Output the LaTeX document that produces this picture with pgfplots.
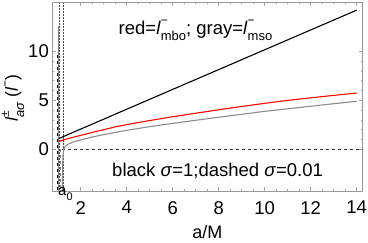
\documentclass[border=0pt]{standalone}
\usepackage{fontspec}
\setmainfont{Liberation Sans}
\usepackage{pgfplots}
\pgfplotsset{compat=1.18}
\newcommand{\lsub}[2]{\textit{l}\rlap{\raisebox{0.52em}{\fontsize{12}{12}\selectfont #1}}\raisebox{-0.36em}{\fontsize{13}{13}\selectfont #2}}
\begin{document}
\fontsize{18.5}{22}\selectfont
\begin{tikzpicture}[x=1pt,y=1pt]
\path[use as bounding box] (-52,-51) rectangle (316,191);
\begin{axis}[at={(0,0)}, anchor=south west, scale only axis,
 width=310.7pt, height=189pt,
 xmin=0.75, xmax=14.26, ymin=-4.26, ymax=15.03,
 xtick={2,4,...,14}, ytick={0,5,10},
 minor x tick num=3, minor y tick num=4,
 tick align=inside, major tick length=4pt, minor tick length=2pt,
 tick style={gray!70, line width=0.5pt},
 axis line style={gray!80, line width=0.6pt},
 /pgf/number format/assume math mode=true,
 ticklabel style={font=\fontsize{18.5}{22}\selectfont},
 xticklabel style={inner sep=0pt, yshift=-10pt},
 yticklabel style={inner sep=0pt, xshift=-3pt},
 xlabel={a/M},
 xlabel style={at={(axis description cs:0.5,0)}, anchor=base, yshift=-47pt, inner sep=0pt, font=\fontsize{18}{21}\selectfont},
 clip=true]
% dotted vertical guides
\addplot[black!70, densely dotted, line width=0.5pt] coordinates {(1.06,-4.26) (1.06,15.03)};
\addplot[black!70, densely dotted, line width=0.5pt] coordinates {(1.23,-4.26) (1.23,15.03)};
% sigma = 0.01 (dashed) curves
\addplot[black!80, dashed, line width=0.9pt] coordinates {(1.2,0) (14.26,0)};
\addplot[black, dashed, line width=1pt] coordinates {(0.97,9.6) (0.97,-4.26)};
\addplot[gray, dashed, line width=0.8pt] coordinates {(1.1,0) (1.1,-4.26)};
\addplot[gray, line width=0.8pt] coordinates {(1.02,12.6) (1.02,-4.26)};
% sigma = 1 curves
\addplot[gray!90, line width=1.1pt] coordinates {
(1.2,-4.3) (1.205,-3) (1.215,-1.6) (1.23,-0.6) (1.26,0) (1.32,0.3) (1.45,0.52)
(1.7,0.75) (2,0.95) (2.5,1.25) (3,1.5) (3.7,1.8) (4,1.93) (5,2.31) (6,2.64)
(7,2.96) (8,3.27) (9,3.57) (10,3.87) (11,4.13) (12,4.39) (13,4.65) (14,4.9)};
\addplot[red, line width=1.1pt] coordinates {
(1.05,0.8) (1.25,0.95) (1.5,1.12) (2,1.42) (2.5,1.72) (3,2.0) (3.5,2.28) (4,2.52)
(5,2.93) (6,3.32) (7,3.68) (8,4.03) (9,4.37) (10,4.69) (11,4.99) (12,5.25)
(13,5.5) (14,5.74)};
\addplot[black, line width=1.1pt] coordinates {(1.05,1.1) (5,5.1) (14,14.2)};
\node[anchor=base, inner sep=0pt] at (axis cs:6.99,11.75) {red=\lsub{−}{mbo}; gray=\lsub{−}{mso}};
\node[anchor=base, inner sep=0pt] at (axis cs:7.95,-2.75) {black \textit{σ}=1;dashed \textit{σ}=0.01};
\end{axis}
\node[anchor=north west, inner sep=0pt, font=\fontsize{15}{17}\selectfont] at (6,3.5) {a\raisebox{-0.3em}{\fontsize{11}{11}\selectfont 0}};
\node[rotate=90, anchor=center, inner sep=0pt, font=\fontsize{17.5}{21}\selectfont] at (-39,93) {\lsub{±}{\textit{aσ}} (\textit{l}\raisebox{0.5em}{\fontsize{12}{12}\selectfont −})};
\end{tikzpicture}
\end{document}
